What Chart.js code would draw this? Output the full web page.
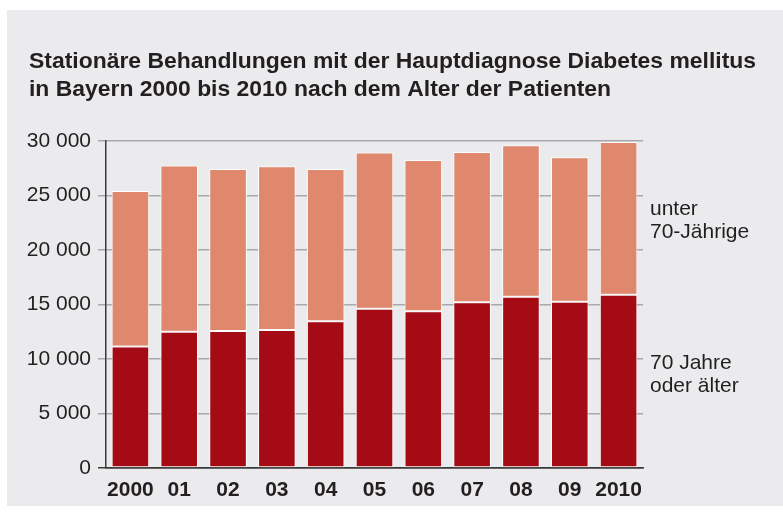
<!DOCTYPE html>
<html>
<head>
<meta charset="utf-8">
<script src="https://cdn.jsdelivr.net/npm/chart.js@4/dist/chart.umd.min.js"></script>
<style>
  html, body { margin: 0; padding: 0; background: #ffffff; }
  #wrap { position: absolute; left: 7px; top: 10px; width: 776px; height: 496px; background: #ebebed; }
  canvas { display: block; }
</style>
</head>
<body>
<div id="wrap"><canvas id="c" width="776" height="496"></canvas></div>
<script>
const categories = ["2000", "01", "02", "03", "04", "05", "06", "07", "08", "09", "2010"];
const olderValues = [11140, 12510, 12570, 12660, 13460, 14620, 14380, 15200, 15710, 15260, 15900];
const youngerValues = [14280, 15240, 14870, 15020, 13980, 14320, 13880, 13790, 13900, 13250, 14010];
const yTicks = [0, 5000, 10000, 15000, 20000, 25000, 30000];
const titleLines = ["Stationäre Behandlungen mit der Hauptdiagnose Diabetes mellitus", "in Bayern 2000 bis 2010 nach dem Alter der Patienten"];
const youngerLabel = ["unter", "70-Jährige"];
const olderLabel = ["70 Jahre", "oder älter"];

const TXT = "#231f20";
const FONT = "'Liberation Sans', Arial, Helvetica, sans-serif";

function fmt(v) {
  return String(v).replace(/\B(?=(\d{3})+(?!\d))/g, " ");
}

const overlay = {
  id: "overlay",
  afterDraw(chart) {
    const ctx = chart.ctx;
    const ca = chart.chartArea;
    const y = chart.scales.y;
    ctx.save();
    // title
    ctx.fillStyle = TXT;
    ctx.textBaseline = "alphabetic";
    ctx.textAlign = "left";
    ctx.font = "bold 22px 'Liberation Sans Narrow', 'Liberation Sans', sans-serif";
    const targetW = 727;
    const w0 = ctx.measureText(titleLines[0]).width;
    const sx = targetW / w0;
    ctx.save();
    ctx.translate(22, 0);
    ctx.scale(sx, 1);
    ctx.fillText(titleLines[0], 0, 58);
    ctx.fillText(titleLines[1], 0, 86);
    ctx.restore();
    // right side labels
    ctx.font = "21px " + FONT;
    ctx.textBaseline = "middle";
    const x = ca.right + 7;
    const yy = y.getPixelForValue(22700);
    ctx.fillText(youngerLabel[0], x, yy - 11);
    ctx.fillText(youngerLabel[1], x, yy + 12);
    const yo = y.getPixelForValue(8640);
    ctx.fillText(olderLabel[0], x, yo - 11);
    ctx.fillText(olderLabel[1], x, yo + 12);
    ctx.restore();
  }
};

new Chart(document.getElementById("c"), {
  type: "bar",
  data: {
    labels: categories,
    datasets: [
      { label: olderLabel.join(" "), data: olderValues, backgroundColor: "#a50b15", borderColor: "#ffffff", borderWidth: 1, borderSkipped: false },
      { label: youngerLabel.join(" "), data: youngerValues, backgroundColor: "#e0886d", borderColor: "#ffffff", borderWidth: 1, borderSkipped: false }
    ]
  },
  options: {
    responsive: false,
    animation: false,
    events: [],
    layout: { padding: { top: 131, left: 0, right: 140, bottom: 0 } },
    plugins: { legend: { display: false }, title: { display: false }, tooltip: { enabled: false } },
    datasets: { bar: { categoryPercentage: 1, barPercentage: 0.77 } },
    scales: {
      x: {
        stacked: true,
        grid: { display: false, drawTicks: false },
        border: { display: true, color: "#3a3a3a", width: 1.5 },
        ticks: { color: TXT, font: { family: FONT, size: 21, weight: "bold" }, padding: 10, maxRotation: 0, autoSkip: false },
        afterFit(s) { s.height = 496 - 458; }
      },
      y: {
        stacked: true,
        min: 0,
        max: 30000,
        afterBuildTicks(s) { s.ticks = yTicks.map(v => ({ value: v })); },
        grid: {
          color: (c) => (c.tick && c.tick.value === 0) ? "#3a3a3a" : "#a9a9ab",
          lineWidth: 1.5,
          tickLength: 8,
          drawTicks: true
        },
        border: { display: true, color: "#3a3a3a", width: 1.5 },
        ticks: { color: TXT, font: { family: FONT, size: 21 }, padding: 7, callback: (v) => fmt(v) },
        afterFit(s) { s.width = 99; }
      }
    }
  },
  plugins: [overlay]
});
</script>
</body>
</html>
